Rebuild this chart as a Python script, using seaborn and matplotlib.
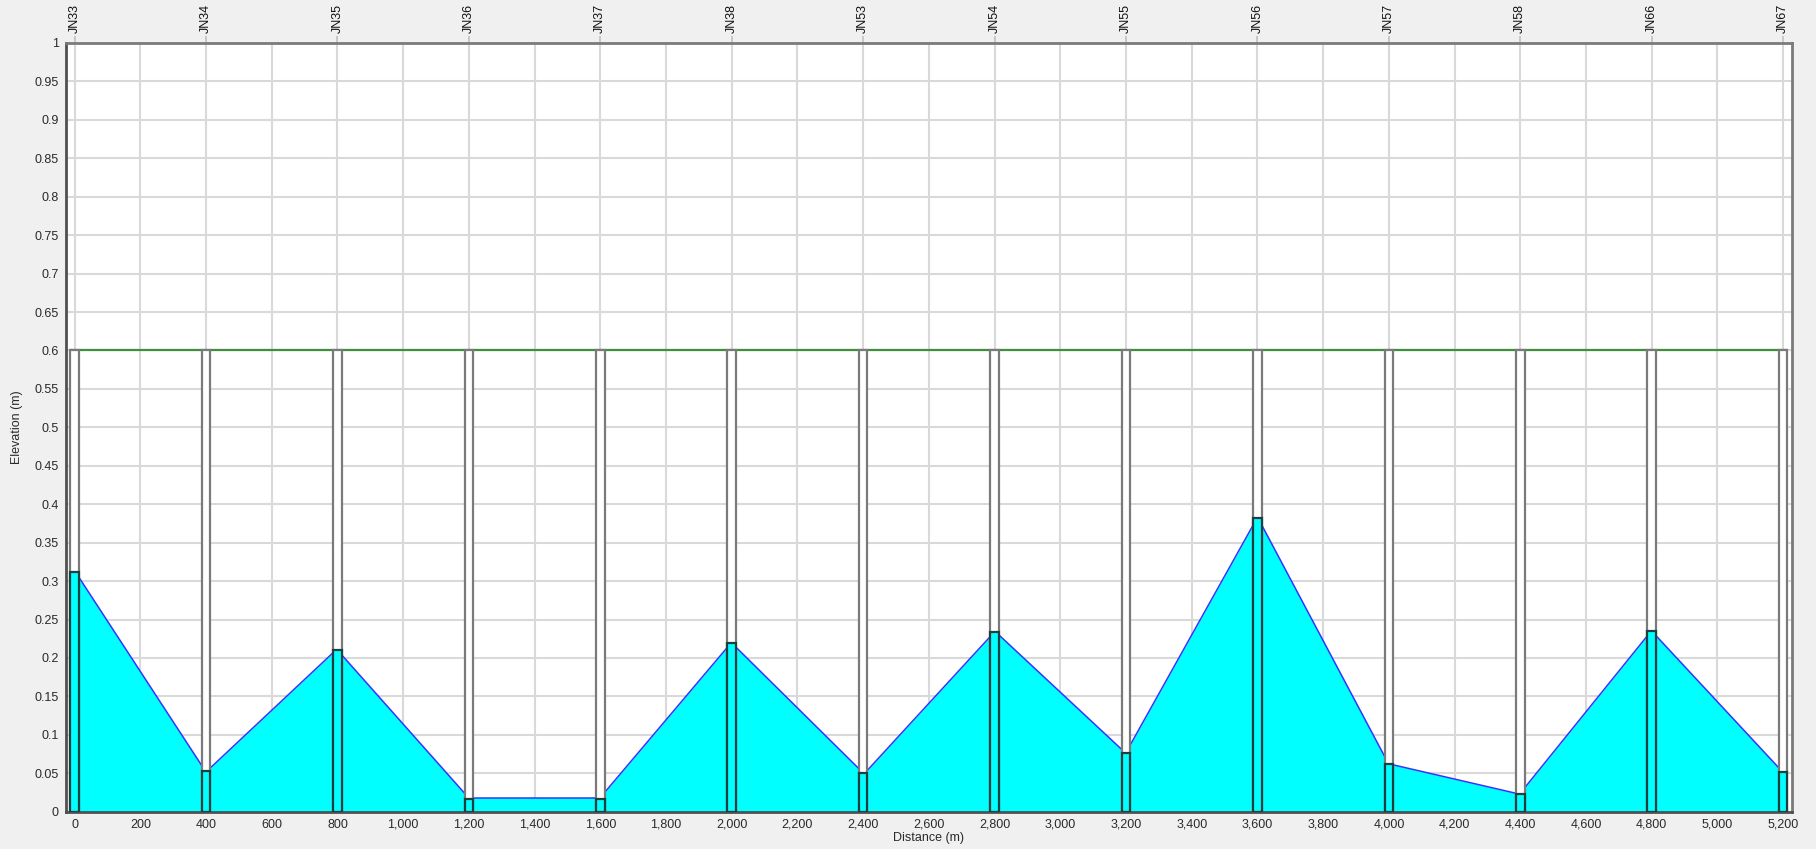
import matplotlib
matplotlib.use("Agg")
import matplotlib.pyplot as plt
from matplotlib.patches import Rectangle
from matplotlib.ticker import MultipleLocator, FuncFormatter
import pandas as pd
import seaborn as sns

# Junctions along the profile
node_names = ["JN33", "JN34", "JN35", "JN36", "JN37", "JN38", "JN53",
              "JN54", "JN55", "JN56", "JN57", "JN58", "JN66", "JN67"]
node_distance = [0, 400, 800, 1200, 1600, 2000, 2400,
                 2800, 3200, 3600, 4000, 4400, 4800, 5200]
node_depth = [0.312, 0.053, 0.210, 0.017, 0.017, 0.220, 0.050,
              0.234, 0.076, 0.382, 0.062, 0.023, 0.235, 0.052]

# Water level at the upstream / downstream end of each conduit
link_depth_up = [0.305, 0.057, 0.204, 0.018, 0.025, 0.214, 0.054,
                 0.230, 0.087, 0.373, 0.061, 0.031, 0.229]
link_depth_down = [0.060, 0.207, 0.024, 0.018, 0.214, 0.056, 0.228,
                   0.081, 0.373, 0.072, 0.024, 0.229, 0.057]

crown_elevation = 0.6
node_half_width = 13

sns.set_style("white")
plt.rcParams["font.family"] = ["Liberation Sans", "DejaVu Sans"]

fig = plt.figure(figsize=(18.16, 8.49), dpi=100, facecolor="#f0f0f0")
ax = fig.add_axes([0.0362, 0.0439, 0.9506, 0.9055])
ax.set_facecolor("white")

# water surface profile for every conduit
rows = []
for i in range(len(link_depth_up)):
    x0 = node_distance[i] + node_half_width
    x1 = node_distance[i + 1] - node_half_width
    rows.append({"link": i, "distance": x0, "level": link_depth_up[i]})
    rows.append({"link": i, "distance": x1, "level": link_depth_down[i]})
    ax.fill_between([x0, x1], [link_depth_up[i], link_depth_down[i]], 0,
                    color="#00ffff", lw=0, zorder=2)
surface = pd.DataFrame(rows)
sns.lineplot(data=surface, x="distance", y="level", units="link",
             estimator=None, color="#3434ff", lw=1.1, ax=ax, zorder=3,
             legend=False)

# conduit crown
ax.plot([node_distance[0] - node_half_width, node_distance[-1] + node_half_width],
        [crown_elevation, crown_elevation], color="#3f8f3f", lw=1.6, zorder=3)

# junction shafts with their water column
for x, d in zip(node_distance, node_depth):
    ax.add_patch(Rectangle((x - node_half_width, 0), 2 * node_half_width,
                           crown_elevation, facecolor="white",
                           edgecolor="#7a7a7a", lw=1.6, zorder=4))
    ax.add_patch(Rectangle((x - node_half_width, 0), 2 * node_half_width, d,
                           facecolor="#00ffff", edgecolor="#1f3f3f",
                           lw=1.6, zorder=5))

ax.set_xlim(-27, 5227)
ax.set_ylim(0, 1)

ax.xaxis.set_major_locator(MultipleLocator(200))
ax.xaxis.set_minor_locator(MultipleLocator(50))
ax.yaxis.set_major_locator(MultipleLocator(0.05))
ax.yaxis.set_minor_locator(MultipleLocator(0.01))
ax.xaxis.set_major_formatter(FuncFormatter(lambda v, p: f"{v:,.0f}"))
ax.yaxis.set_major_formatter(FuncFormatter(lambda v, p: f"{round(v, 2):g}"))

ax.grid(True, which="major", color="#d9d9d9", lw=1.5, zorder=0)
ax.set_axisbelow(True)

ax.tick_params(which="major", direction="out", length=4, width=1.2,
               color="#9a9a9a", labelsize=9, labelcolor="#2a2a2a", pad=1)
ax.tick_params(which="minor", direction="out", length=3, width=1.2,
               color="#b0b0b0")

for side in ["left", "bottom"]:
    ax.spines[side].set_color("#505050")
    ax.spines[side].set_linewidth(2)
for side in ["top", "right"]:
    ax.spines[side].set_color("#7a7a7a")
    ax.spines[side].set_linewidth(2)
    ax.spines[side].set_visible(True)
ax.spines["left"].set_visible(True)
ax.spines["bottom"].set_visible(True)

ax.set_xlabel("Distance (m)", fontsize=9, color="#2a2a2a", labelpad=1)
ax.set_ylabel("Elevation (m)", fontsize=9, color="#2a2a2a", labelpad=8)

top = ax.secondary_xaxis("top")
top.set_xticks(node_distance)
top.set_xticklabels(node_names, rotation=90, fontsize=9, color="#111111")
top.tick_params(direction="out", length=5, width=1.2, color="#c0c0c0", pad=2)
top.spines["top"].set_visible(False)

fig.savefig("out.png", dpi=100, facecolor=fig.get_facecolor())
